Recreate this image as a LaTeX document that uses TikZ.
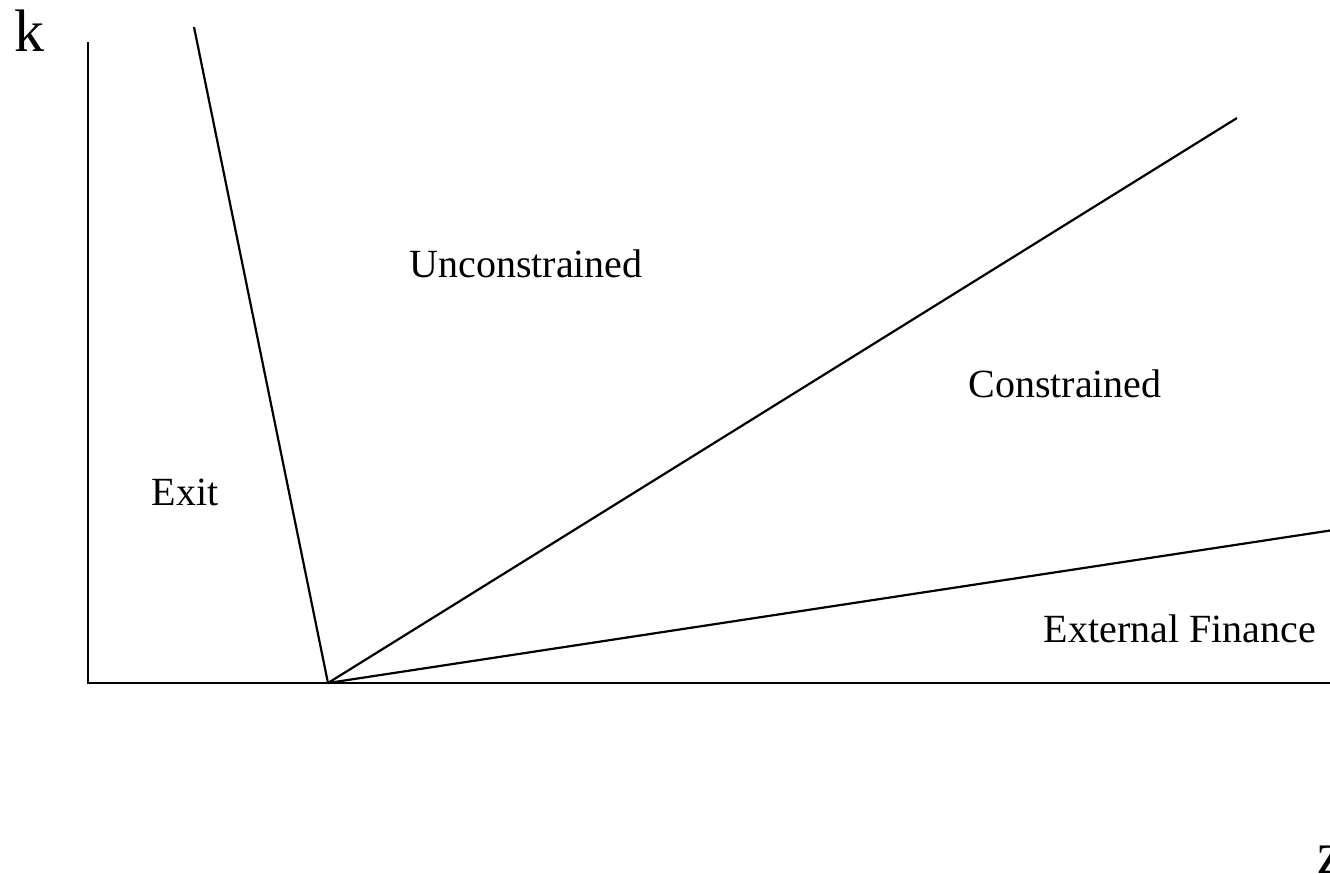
\documentclass[tikz,border=0pt]{standalone}
\usepackage{fontspec}
\setmainfont{Liberation Serif}
\begin{document}
\begin{tikzpicture}[x=0.5pt,y=-0.5pt,
  curve/.style={line width=1.1pt,black},
  region/.style={font=\fontsize{20}{24}\selectfont,inner sep=0pt},
  axislabel/.style={font=\fontsize{30}{36}\selectfont,inner sep=0pt,anchor=base west}]
\useasboundingbox (0,0) rectangle (1330,874);
\clip (0,0) rectangle (1330,874);
\coordinate (ytop) at (88,42);
\coordinate (O) at (88,683);
\coordinate (xend) at (1340,683);
\coordinate (z0) at (328,683);
\coordinate (exitTop) at (194,27);
\coordinate (uncEnd) at (1237,118);
\coordinate (extEnd) at (1340,529);
\draw[curve] (ytop) -- (O) -- (xend);
\draw[curve] (exitTop) -- (z0);
\draw[curve] (z0) -- (uncEnd);
\draw[curve] (z0) -- (extEnd);
\node[axislabel] (k) at (14,51) {k};
\node[axislabel] (z) at (1317,873) {z};
\node[region] (exit) at (185,492) {Exit};
\node[region] (unc) at (526,264) {Unconstrained};
\node[region] (con) at (1065,384) {Constrained};
\node[region] (ext) at (1180,629) {External Finance};
\end{tikzpicture}
\end{document}
